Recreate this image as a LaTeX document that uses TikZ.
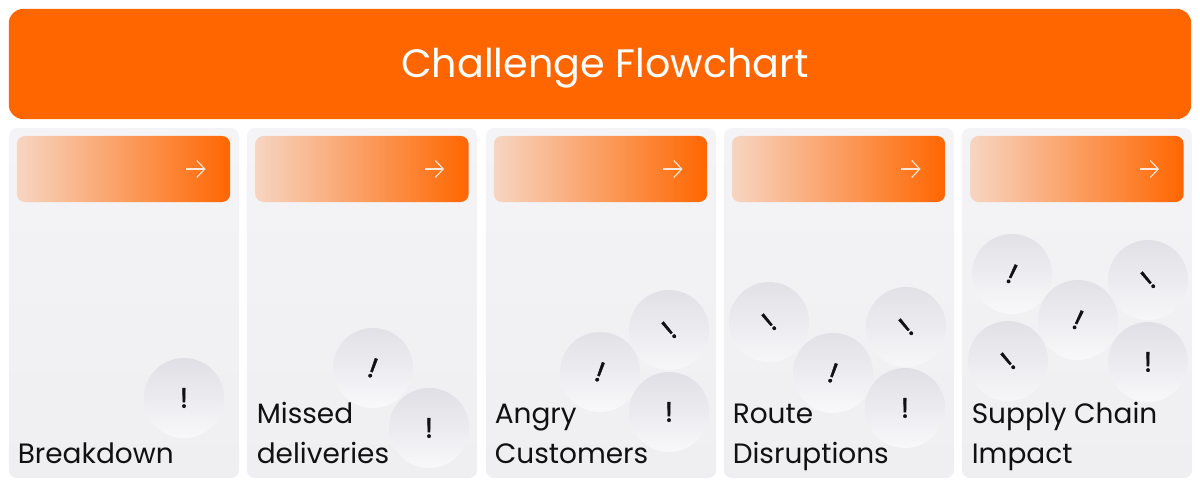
\documentclass[tikz,border=0pt]{standalone}
\usepackage{fontspec}
\setmainfont{Poppins}
\newfontfamily\ballfont[FakeBold=1.4]{Poppins}
\usetikzlibrary{arrows.meta}

\definecolor{brandorange}{HTML}{FF6600}
\definecolor{fadeorange}{HTML}{F7D5C2}
\definecolor{cardtop}{HTML}{F4F4F7}
\definecolor{cardbottom}{HTML}{EFEFF2}
\definecolor{balltop}{HTML}{DFDFE5}
\definecolor{ballbottom}{HTML}{F8F8FA}
\definecolor{inktext}{HTML}{111114}

\tikzset{
  headerbox/.style={fill=brandorange,rounded corners=0.35cm,minimum width=29.55cm,minimum height=2.75cm},
  headerlabel/.style={inner sep=0pt,text=white,font=\fontsize{28.2}{34}\selectfont},
  cardbox/.style={top color=cardtop,bottom color=cardbottom,rounded corners=0.2cm,minimum width=5.75cm,minimum height=8.75cm},
  barbox/.style={left color=fadeorange,right color=brandorange,rounded corners=0.2cm,minimum width=5.33cm,minimum height=1.65cm},
  ballnode/.style={circle,top color=balltop,bottom color=ballbottom,minimum size=2cm,inner sep=0pt,text=inktext,font=\ballfont\fontsize{20}{20}\selectfont},
  cardlabel/.style={anchor=base west,inner sep=0pt,align=left,text=inktext,font=\fontsize{19.9}{28}\selectfont},
  barrow/.style={-{Straight Barb[length=0.2cm,width=0.42cm]},draw=white!85!brandorange,line width=0.8pt}
}

\begin{document}
\begin{tikzpicture}[x=0.025cm,y=-0.025cm]

\useasboundingbox (0,0) rectangle (1200,487);

\node (H) at (600,64) [headerbox] {};
\node (T) at (605,68) [headerlabel] {Challenge Flowchart};

\node (C1) at (124,303) [cardbox] {};
\node (C2) at (362,303) [cardbox] {};
\node (C3) at (601,303) [cardbox] {};
\node (C4) at (839,303) [cardbox] {};
\node (C5) at (1077,303) [cardbox] {};

\node (B1) at (123.5,169) [barbox] {};
\node (B2) at (362,169) [barbox] {};
\node (B3) at (600.5,169) [barbox] {};
\node (B4) at (838.5,169) [barbox] {};
\node (B5) at (1077,169) [barbox] {};

\draw [barrow] ([xshift=-1.1cm]B1.east) -- ([xshift=-0.62cm]B1.east);
\draw [barrow] ([xshift=-1.1cm]B2.east) -- ([xshift=-0.62cm]B2.east);
\draw [barrow] ([xshift=-1.1cm]B3.east) -- ([xshift=-0.62cm]B3.east);
\draw [barrow] ([xshift=-1.1cm]B4.east) -- ([xshift=-0.62cm]B4.east);
\draw [barrow] ([xshift=-1.1cm]B5.east) -- ([xshift=-0.62cm]B5.east);

% bubbles
\node (P1) at (184,398) [ballnode] {!};

\node (P2) at (373,368) [ballnode,rotate=-20] {!};
\node (P3) at (429,428) [ballnode] {!};

\node (P4) at (600,372) [ballnode,rotate=-20] {!};
\node (P5) at (669,330) [ballnode,rotate=40] {!};
\node (P6) at (669,412) [ballnode] {!};

\node (P7) at (769,322) [ballnode,rotate=40] {!};
\node (P8) at (833,373) [ballnode,rotate=-20] {!};
\node (P9) at (906,327) [ballnode,rotate=40] {!};
\node (P10) at (905,408) [ballnode] {!};

\node (P11) at (1012,274) [ballnode,rotate=-25] {!};
\node (P12) at (1148,280) [ballnode,rotate=40] {!};
\node (P13) at (1008,361) [ballnode,rotate=40] {!};
\node (P14) at (1078,320) [ballnode,rotate=-25] {!};
\node (P15) at (1148,362) [ballnode] {!};

\node (L1) at (17.5,463) [cardlabel] {Breakdown};
\node (L2) at (256.5,463) [cardlabel] {Missed\\deliveries};
\node (L3) at (494.5,463) [cardlabel] {Angry\\Customers};
\node (L4) at (732.5,463) [cardlabel] {Route\\Disruptions};
\node (L5) at (971.5,463) [cardlabel] {Supply Chain\\Impact};

\end{tikzpicture}
\end{document}
